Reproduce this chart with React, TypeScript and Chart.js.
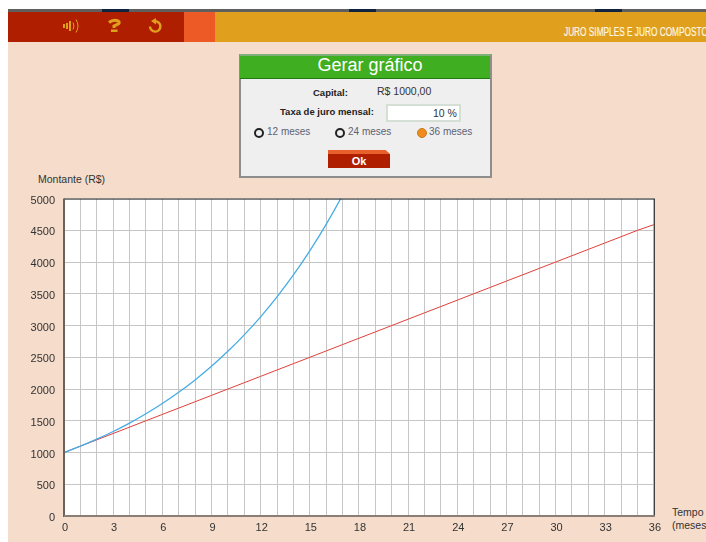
import React, { useEffect, useRef } from "react";
import { Chart, registerables } from "chart.js";

Chart.register(...registerables);

const months = [0, 1, 2, 3, 4, 5, 6, 7, 8, 9, 10, 11, 12, 13, 14, 15, 16, 17, 18, 19, 20, 21, 22, 23, 24, 25, 26, 27, 28, 29, 30, 31, 32, 33, 34, 35, 36];
const simple = [1000, 1100, 1200, 1300, 1400, 1500, 1600, 1700, 1800, 1900, 2000, 2100, 2200, 2300, 2400, 2500, 2600, 2700, 2800, 2900, 3000, 3100, 3200, 3300, 3400, 3500, 3600, 3700, 3800, 3900, 4000, 4100, 4200, 4300, 4400, 4500, 4590];
const compound = [1000, 1100, 1210, 1331, 1464, 1611, 1772, 1949, 2144, 2358, 2594, 2853, 3138, 3452, 3797, 4177, 4595, 5054, 5560];

const plotFrame = {
  id: "plotFrame",
  beforeDraw(c: any) {
    const { ctx, chartArea: a } = c;
    ctx.save();
    ctx.fillStyle = "#ffffff";
    ctx.fillRect(a.left, a.top, a.right - a.left, a.bottom - a.top);
    ctx.restore();
  },
  afterDatasetsDraw(c: any) {
    const { ctx, chartArea: a } = c;
    ctx.save();
    ctx.strokeStyle = "#2a2a2a";
    ctx.lineWidth = 1;
    ctx.beginPath();
    ctx.moveTo(a.left, a.top + 0.5);
    ctx.lineTo(a.right + 0.5, a.top + 0.5);
    ctx.moveTo(a.right + 0.5, a.top);
    ctx.lineTo(a.right + 0.5, a.bottom);
    ctx.stroke();
    ctx.strokeStyle = "#6b625c";
    ctx.lineWidth = 2;
    ctx.beginPath();
    ctx.moveTo(a.left, a.top);
    ctx.lineTo(a.left, a.bottom + 1);
    ctx.stroke();
    ctx.strokeStyle = "#8a7f76";
    ctx.beginPath();
    ctx.moveTo(a.left, a.bottom);
    ctx.lineTo(a.right + 1, a.bottom);
    ctx.stroke();
    ctx.restore();
  },
};

const label = (left: number, top: number, text: string, style: React.CSSProperties = {}) => (
  <div style={{ position: "absolute", left, top, whiteSpace: "nowrap", fontSize: 10, lineHeight: "12px", color: "#2e2e2e", ...style }}>{text}</div>
);

const Box = ({ l, t, w, h, bg, style = {} }: { l: number; t: number; w: number; h: number; bg: string; style?: React.CSSProperties }) => (
  <div style={{ position: "absolute", left: l, top: t, width: w, height: h, background: bg, ...style }} />
);

const Radio = ({ left, on }: { left: number; on?: boolean }) => (
  <div style={{ position: "absolute", left, top: 128, width: 10, height: 10, borderRadius: "50%", boxSizing: "border-box", border: on ? "1px solid #c9781a" : "2px solid #222", background: on ? "#f08c1e" : "#f0f0f0" }} />
);

export default function App() {
  const ref = useRef<HTMLCanvasElement>(null);
  useEffect(() => {
    const chart = new Chart(ref.current!, {
      type: "line",
      data: {
        labels: months,
        datasets: [
          { label: "Juro simples", order: 1, data: months.map((m, i) => ({ x: m, y: simple[i] })), borderColor: "#e0403a", borderWidth: 1, pointRadius: 0, tension: 0 },
          { label: "Juro composto", order: 0, data: compound.map((v, i) => ({ x: months[i], y: v })), borderColor: "#45ace6", borderWidth: 1.3, pointRadius: 0, tension: 0.3 },
        ],
      },
      options: {
        responsive: false,
        animation: false,
        layout: { padding: 0 },
        plugins: { legend: { display: false }, tooltip: { enabled: false } },
        scales: {
          x: {
            type: "linear",
            min: 0,
            max: 36,
            afterFit: (s: any) => { s.height = 26; },
            ticks: {
              stepSize: 1,
              autoSkip: false,
              maxRotation: 0,
              padding: 5,
              labelOffset: 1,
              color: "#333333",
              font: { family: "Liberation Sans", size: 11 },
              callback: (v: any) => (v % 3 === 0 ? String(v) : ""),
            },
            grid: { color: "#c6c6c6", lineWidth: 1, drawTicks: false },
            border: { display: false },
          },
          y: {
            min: 0,
            max: 5000,
            afterFit: (s: any) => { s.width = 56; },
            ticks: {
              stepSize: 500,
              padding: 9,
              labelOffset: 2,
              color: "#333333",
              font: { family: "Liberation Sans", size: 11 },
              callback: (v: any) => String(v),
            },
            grid: { color: "#c6c6c6", lineWidth: 1, drawTicks: false },
            border: { display: false },
          },
        },
      },
      plugins: [plotFrame],
    } as any);
    return () => chart.destroy();
  }, []);

  return (
    <div style={{ position: "absolute", left: 0, top: 0, width: 706, height: 542, overflow: "hidden", background: "#ffffff", fontFamily: "'Liberation Sans', Arial, sans-serif" }}>
      <Box l={8} t={42} w={698} h={500} bg="#f5dccb" />
      <Box l={8} t={9} w={698} h={3} bg="#5f5f5f" />
      <Box l={102} t={9} w={27} h={3} bg="#0e2440" />
      <Box l={349} t={9} w={27} h={3} bg="#0e2440" />
      <Box l={595} t={9} w={27} h={3} bg="#0e2440" />
      <Box l={8} t={12} w={176} h={29.5} bg="#b01e00" />
      <Box l={184} t={12} w={31} h={29.5} bg="#ee5a26" />
      <Box l={215} t={12} w={491} h={29.5} bg="#e0a01e" />
      <svg style={{ position: "absolute", left: 60, top: 16, width: 110, height: 20 }} viewBox="0 0 110 20">
        <g fill="#e0a01e">
          <rect x="3" y="8" width="2" height="4" />
          <rect x="6" y="7" width="2" height="6" />
          <rect x="9" y="5" width="2" height="10" />
        </g>
        <g fill="none" stroke="#e0a01e" strokeWidth="1">
          <path d="M13 6.5 Q15 10 13 13.5" />
          <path d="M16 3.5 Q20 10 16 16.5" />
        </g>
        <path d="M49 6.5 Q53 3 58 4.8 Q61 6.8 57 8.6 L54 10 L54 12" fill="none" stroke="#e0a01e" strokeWidth="3" />
        <rect x="51" y="13.5" width="6.5" height="2.5" fill="#e0a01e" />
        <path d="M95 5.2 A5.2 5.2 0 1 1 90 10.5" fill="none" stroke="#e0a01e" strokeWidth="2.4" />
        <path d="M96 2 L96 8.5 L91 5 Z" fill="#e0a01e" />
      </svg>
      <div style={{ position: "absolute", left: 564, top: 25, whiteSpace: "nowrap", fontSize: 12, lineHeight: "14px", color: "#fff6e0", transform: "scaleX(0.69)", transformOrigin: "left center", WebkitTextStroke: "0.2px #fff6e0" }}>JURO SIMPLES E JURO COMPOSTO</div>

      <Box l={238.5} t={54} w={253} h={124} bg="#efefef" style={{ boxSizing: "border-box", border: "2px solid #8e8e8e", borderTopColor: "#7fb07a" }} />
      <Box l={240} t={56} w={250} h={22} bg="#3fae20" style={{ borderBottom: "1px solid #1f7a14" }} />
      <div style={{ position: "absolute", left: 240, width: 260, top: 55, textAlign: "center", fontSize: 18, lineHeight: "21px", color: "#ffffff" }}>Gerar gráfico</div>
      {label(313, 87, "Capital:", { fontWeight: 700, fontSize: 9.5, color: "#222" })}
      {label(377, 85, "R$ 1000,00", { color: "#333", fontSize: 10.5 })}
      {label(280, 106, "Taxa de juro mensal:", { fontWeight: 700, fontSize: 9.5, color: "#222" })}
      <Box l={386} t={104} w={75} h={18} bg="#ffffff" style={{ boxSizing: "border-box", border: "2px solid #d5dfd5" }} />
      {label(433, 107, "10 %", { color: "#333", fontSize: 10.5 })}
      <Radio left={254} />
      {label(267, 126, "12 meses", { color: "#5e6272", fontSize: 10 })}
      <Radio left={335} />
      {label(348, 126, "24 meses", { color: "#5e6272", fontSize: 10 })}
      <Radio left={417} on />
      {label(429, 126, "36 meses", { color: "#5e6272", fontSize: 10 })}
      <Box l={328} t={150} w={62} h={4} bg="#e8612c" style={{ clipPath: "polygon(0 0, 93% 0, 100% 100%, 0 100%)" }} />
      <Box l={328} t={154} w={62} h={14} bg="#b01e00" />
      <div style={{ position: "absolute", left: 328, top: 154, width: 62, textAlign: "center", fontSize: 11, lineHeight: "14px", fontWeight: 700, color: "#fff" }}>Ok</div>

      {label(38, 173, "Montante (R$)", { color: "#333", fontSize: 10.5 })}
      {label(672, 506, "Tempo", { color: "#333", fontSize: 10.5 })}
      {label(672, 519, "(meses)", { color: "#333", fontSize: 10.5 })}

      <canvas ref={ref} width={657} height={359} style={{ position: "absolute", left: 8, top: 183, display: "block" }} />
    </div>
  );
}
